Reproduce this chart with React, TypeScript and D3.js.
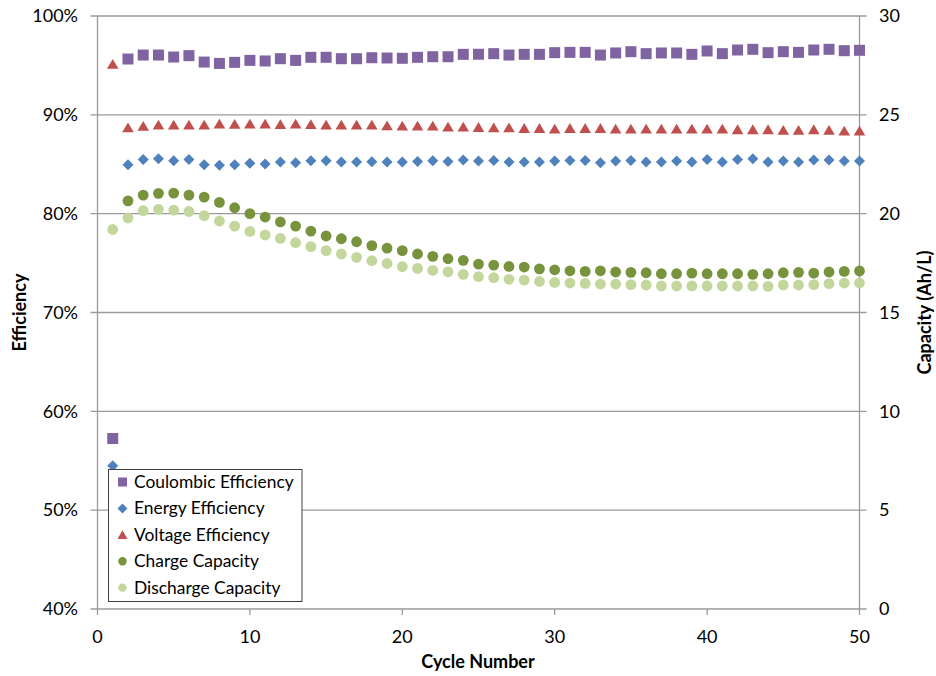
import React from "react";
import * as d3 from "d3";

// Cycle-by-cycle performance of the cell
const cycles: number[] = d3.range(1, 51);

const coulombicEfficiency: number[] = [
  57.25, 95.65, 96.05, 96.05, 95.85, 95.99, 95.34, 95.2, 95.31, 95.51,
  95.45, 95.68, 95.51, 95.82, 95.82, 95.68, 95.68, 95.78, 95.75, 95.72,
  95.82, 95.88, 95.88, 96.12, 96.13, 96.19, 96.05, 96.12, 96.12, 96.29,
  96.32, 96.32, 96.05, 96.26, 96.39, 96.19, 96.26, 96.26, 96.12, 96.46,
  96.19, 96.56, 96.63, 96.29, 96.39, 96.32, 96.56, 96.63, 96.49, 96.53,
];

const energyEfficiency: number[] = [
  54.5, 84.95, 85.49, 85.56, 85.36, 85.49, 84.95, 84.89, 84.95, 85.09,
  85.02, 85.22, 85.16, 85.36, 85.36, 85.22, 85.22, 85.26, 85.22, 85.22,
  85.29, 85.36, 85.29, 85.43, 85.33, 85.39, 85.22, 85.22, 85.22, 85.32,
  85.39, 85.39, 85.16, 85.32, 85.39, 85.22, 85.22, 85.32, 85.22, 85.49,
  85.22, 85.49, 85.56, 85.22, 85.32, 85.22, 85.43, 85.43, 85.32, 85.32,
];

const voltageEfficiency: number[] = [
  95.15, 88.73, 88.87, 89.0, 89.0, 89.0, 89.0, 89.1, 89.07, 89.1,
  89.1, 89.04, 89.1, 89.04, 89.0, 89.0, 89.0, 89.0, 88.93, 88.9,
  88.9, 88.9, 88.8, 88.8, 88.76, 88.73, 88.73, 88.66, 88.66, 88.6,
  88.66, 88.66, 88.66, 88.6, 88.6, 88.6, 88.6, 88.6, 88.6, 88.6,
  88.6, 88.53, 88.53, 88.53, 88.46, 88.46, 88.53, 88.46, 88.4, 88.4,
];

const chargeCapacity: (number | null)[] = [
  null, 20.65, 20.94, 21.03, 21.04, 20.94, 20.84, 20.57, 20.3, 20.0,
  19.83, 19.58, 19.37, 19.12, 18.87, 18.73, 18.58, 18.38, 18.26, 18.13,
  17.96, 17.84, 17.72, 17.64, 17.45, 17.4, 17.33, 17.3, 17.21, 17.16,
  17.11, 17.08, 17.11, 17.05, 17.03, 17.01, 16.96, 16.96, 16.99, 16.96,
  16.96, 16.96, 16.93, 16.96, 17.01, 17.03, 16.99, 17.05, 17.08, 17.1,
];

const dischargeCapacity: number[] = [
  19.2, 19.79, 20.15, 20.22, 20.18, 20.11, 19.9, 19.63, 19.37, 19.1,
  18.92, 18.75, 18.53, 18.33, 18.13, 17.96, 17.79, 17.62, 17.48, 17.32,
  17.23, 17.13, 17.06, 16.93, 16.81, 16.76, 16.68, 16.64, 16.57, 16.52,
  16.49, 16.47, 16.44, 16.44, 16.41, 16.39, 16.34, 16.34, 16.34, 16.34,
  16.34, 16.34, 16.34, 16.32, 16.39, 16.39, 16.41, 16.46, 16.49, 16.49,
];

const xTicks: number[] = [0, 10, 20, 30, 40, 50];
const leftTicks: number[] = [40, 50, 60, 70, 80, 90, 100];
const rightTicks: number[] = [0, 5, 10, 15, 20, 25, 30];

const seriesNames: string[] = [
  "Coulombic Efficiency",
  "Energy Efficiency",
  "Voltage Efficiency",
  "Charge Capacity",
  "Discharge Capacity",
];

const W = 936;
const H = 676;
const margin = { left: 97.5, right: 76.5, top: 16, bottom: 67 };
const FONT = "Lato, 'Open Sans', sans-serif";

const COLORS = ["#8064A2", "#4F81BD", "#C0504D", "#77933C", "#C3D69B"];
const GRID = "#9a9a9a";

type Shape = "square" | "diamond" | "triangle" | "circle";
const SHAPES: Shape[] = ["square", "diamond", "triangle", "circle", "circle"];

function Marker({ shape, x, y, color }: { shape: Shape; x: number; y: number; color: string }) {
  if (shape === "square") {
    return <rect x={x - 5.5} y={y - 5.5} width={11} height={11} fill={color} />;
  }
  if (shape === "diamond") {
    return (
      <path
        d={`M${x},${y - 5.5}L${x + 5.5},${y}L${x},${y + 5.5}L${x - 5.5},${y}Z`}
        fill={color}
      />
    );
  }
  if (shape === "triangle") {
    return (
      <path
        d={`M${x},${y - 5}L${x + 5.8},${y + 4.8}L${x - 5.8},${y + 4.8}Z`}
        fill={color}
      />
    );
  }
  return <circle cx={x} cy={y} r={5.4} fill={color} />;
}

export default function App() {
  const x = d3.scaleLinear().domain([0, 50]).range([margin.left, W - margin.right]);
  const yEff = d3.scaleLinear().domain([40, 100]).range([H - margin.bottom, margin.top]);
  const yCap = d3.scaleLinear().domain([0, 30]).range([H - margin.bottom, margin.top]);

  const x0 = x(0);
  const x1 = x(50);
  const yTop = yEff(100);
  const yBot = yEff(40);

  const efficiencySeries = [coulombicEfficiency, energyEfficiency, voltageEfficiency];
  const capacitySeries = [chargeCapacity, dischargeCapacity];

  const legend = { x: 108.5, y: 469.5, w: 193.5, h: 132, row: 26.4 };

  return (
    <svg
      width={W}
      height={H}
      style={{ position: "absolute", left: 0, top: 0, background: "#fff" }}
      fontFamily={FONT}
    >
      {/* horizontal gridlines with tick stubs on both sides */}
      {leftTicks.map((t) => (
        <line key={`g${t}`} x1={x0 - 7} x2={x1 + 7} y1={yEff(t)} y2={yEff(t)} stroke={GRID} strokeWidth={1.3} />
      ))}
      {/* axis lines */}
      <line x1={x0} x2={x0} y1={yTop} y2={yBot} stroke={GRID} strokeWidth={1.3} />
      <line x1={x1} x2={x1} y1={yTop} y2={yBot} stroke={GRID} strokeWidth={1.3} />
      {xTicks.map((t) => (
        <line key={`xt${t}`} x1={x(t)} x2={x(t)} y1={yBot} y2={yBot + 6} stroke={GRID} strokeWidth={1.3} />
      ))}

      {/* left tick labels */}
      {leftTicks.map((t) => (
        <text key={`lt${t}`} x={78} y={yEff(t)} dy="0.35em" textAnchor="end" fontSize={18} fill="#000">
          {`${t}%`}
        </text>
      ))}
      {/* right tick labels */}
      {rightTicks.map((t) => (
        <text key={`rt${t}`} x={879} y={yCap(t)} dy="0.35em" textAnchor="start" fontSize={18} fill="#000">
          {t}
        </text>
      ))}
      {/* x tick labels */}
      {xTicks.map((t) => (
        <text key={`xl${t}`} x={x(t)} y={637} dy="0.35em" textAnchor="middle" fontSize={18} fill="#000">
          {t}
        </text>
      ))}

      {/* axis titles */}
      <text x={478} y={662} dy="0.35em" textAnchor="middle" fontSize={18} fontWeight="bold">
        Cycle Number
      </text>
      <text
        transform={`translate(20,${(yTop + yBot) / 2}) rotate(-90)`}
        dy="0.35em"
        textAnchor="middle"
        fontSize={18}
        fontWeight="bold"
      >
        Efficiency
      </text>
      <text
        transform={`translate(925,${(yTop + yBot) / 2}) rotate(-90)`}
        dy="0.35em"
        textAnchor="middle"
        fontSize={18}
        fontWeight="bold"
      >
        Capacity (Ah/L)
      </text>

      {/* efficiency series on the left axis */}
      {efficiencySeries.map((vals, si) => (
        <g key={`e${si}`}>
          {vals.map((v, i) => (
            <Marker key={i} shape={SHAPES[si]} x={x(cycles[i])} y={yEff(v)} color={COLORS[si]} />
          ))}
        </g>
      ))}
      {/* capacity series on the right axis */}
      {capacitySeries.map((vals, si) => (
        <g key={`c${si}`}>
          {vals.map((v, i) =>
            v == null ? null : (
              <Marker key={i} shape="circle" x={x(cycles[i])} y={yCap(v)} color={COLORS[si + 3]} />
            )
          )}
        </g>
      ))}

      {/* legend */}
      <rect x={legend.x} y={legend.y} width={legend.w} height={legend.h} fill="#fff" stroke="#404040" strokeWidth={1} />
      {seriesNames.map((name, i) => {
        const cy = legend.y + 12.5 + i * legend.row;
        const shape = SHAPES[i];
        return (
          <g key={name}>
            {shape === "circle" ? (
              <circle cx={122.5} cy={cy} r={4.2} fill={COLORS[i]} />
            ) : shape === "square" ? (
              <rect x={118} y={cy - 4.5} width={9} height={9} fill={COLORS[i]} />
            ) : shape === "diamond" ? (
              <path d={`M122.5,${cy - 5}L127.5,${cy}L122.5,${cy + 5}L117.5,${cy}Z`} fill={COLORS[i]} />
            ) : (
              <path d={`M122.5,${cy - 4.5}L127.5,${cy + 4.2}L117.5,${cy + 4.2}Z`} fill={COLORS[i]} />
            )}
            <text x={134} y={cy} dy="0.35em" fontSize={17.4} fill="#000">
              {name}
            </text>
          </g>
        );
      })}
    </svg>
  );
}
